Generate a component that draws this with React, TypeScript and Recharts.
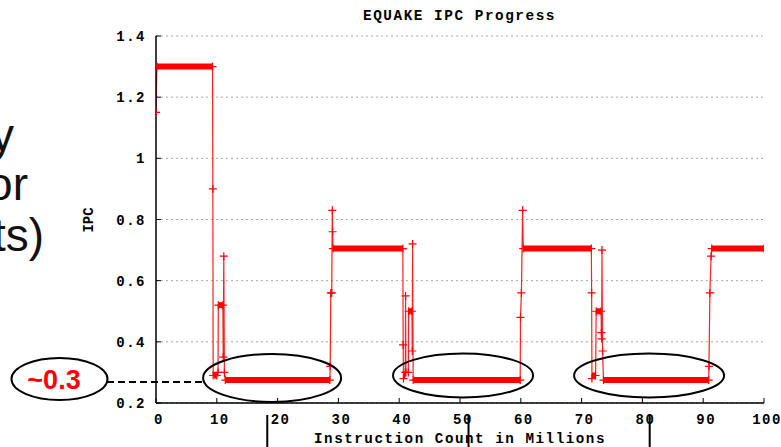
import React from 'react';
import { ComposedChart, Line, Scatter, XAxis, YAxis, CartesianGrid } from 'recharts';

// sampled IPC trace (x = instructions in millions)
const instrM = [
  0, 0.15, 9.3, 9.35, 9.4, 10.0, 10.2, 10.25, 11.0, 11.05, 11.15, 11.25, 11.4, 28.6, 28.65, 28.75, 28.9, 29.0, 29.05, 29.1, 40.6,
  40.65, 40.7, 41.0, 41.05, 41.1, 41.5, 41.55, 42.1, 42.15, 42.2, 42.3, 59.9, 59.95, 60.1, 60.3, 60.4, 71.6,
  71.65, 71.7, 72.3, 72.4, 73.2, 73.25, 73.3, 73.35, 73.45, 73.6, 90.9, 90.95, 91.1, 91.3, 91.4, 100,
];
const ipcValues = [
  1.15, 1.3, 1.3, 0.9, 0.29, 0.29, 0.3, 0.52, 0.52, 0.35, 0.68, 0.3, 0.275, 0.275, 0.32, 0.56, 0.56, 0.83, 0.76, 0.705, 0.705,
  0.39, 0.28, 0.3, 0.55, 0.3, 0.3, 0.5, 0.5, 0.37, 0.72, 0.275, 0.275, 0.48, 0.56, 0.83, 0.705, 0.705,
  0.56, 0.28, 0.29, 0.5, 0.5, 0.43, 0.41, 0.7, 0.37, 0.275, 0.275, 0.32, 0.56, 0.68, 0.705, 0.705,
];

// steady phases, where the noisy samples pile up into a thick band
const phaseFrom = [0.15, 9.5, 10.25, 11.4, 29.1, 40.7, 41.55, 42.3, 60.4, 71.7, 72.4, 73.6, 91.4];
const phaseTo = [9.3, 10.0, 11.0, 28.6, 40.6, 41.0, 42.1, 59.9, 71.6, 72.3, 73.2, 90.9, 100];
const phaseIPC = [1.3, 0.29, 0.52, 0.275, 0.705, 0.29, 0.5, 0.275, 0.705, 0.29, 0.5, 0.275, 0.705];

const xTicks = [0, 10, 20, 30, 40, 50, 60, 70, 80, 90, 100];
const yTicks = [0.2, 0.4, 0.6, 0.8, 1, 1.2, 1.4];

// the circled low phases on the slide
const circleX = [19.1, 50.5, 81.1];
const circleIPC = [0.282, 0.29, 0.29];
const circleRx = [69, 70, 75];
const circleRy = [24, 22, 22];

const trace = instrM.map((x, i) => ({ x, ipc: ipcValues[i] }));
const phases = phaseFrom.map((from, i) => [
  { x: from, ipc: phaseIPC[i] },
  { x: phaseTo[i], ipc: phaseIPC[i] },
]);

const W = 781;
const H = 447;
const PLOT_L = 156;
const PLOT_R = 764;
const PLOT_T = 36;
const PLOT_B = 403;
const px = (x: number) => PLOT_L + (x / 100) * (PLOT_R - PLOT_L);
const py = (v: number) => PLOT_B - ((v - 0.2) / 1.2) * (PLOT_B - PLOT_T);

const monoFont: React.CSSProperties = {
  fontFamily: '"Liberation Mono", "DejaVu Sans Mono", monospace',
  fontWeight: 'bold',
  fontSize: 14,
  letterSpacing: 1.5,
  fill: '#000',
};

const fmtY = (v: number) => (v === 1 ? '1' : v.toFixed(1));

const BottomTick = (p: any) => (
  <g>
    <line x1={p.x} x2={p.x} y1={p.y} y2={p.y - 5} stroke="#000" />
    <text x={p.x + 3} y={p.y + 21} textAnchor="middle" style={monoFont}>{p.payload.value}</text>
  </g>
);
const TopTick = (p: any) => <line x1={p.x} x2={p.x} y1={p.y} y2={p.y + 5} stroke="#000" />;
const LeftTick = (p: any) => (
  <g>
    <line x1={p.x} x2={p.x + 5} y1={p.y} y2={p.y} stroke="#000" />
    <text x={p.x - 10} y={p.y + 5} textAnchor="end" style={monoFont}>{fmtY(p.payload.value)}</text>
  </g>
);
const RightTick = (p: any) => <line x1={p.x} x2={p.x - 5} y1={p.y} y2={p.y} stroke="#444" />;

const PlusMark = (p: any) => (
  <path
    d={`M${p.cx - 4},${p.cy}H${p.cx + 4}M${p.cx},${p.cy - 4}V${p.cy + 4}`}
    stroke="#ff0000"
    strokeWidth={1.2}
    fill="none"
  />
);

export default function App() {
  return (
    <div style={{ position: 'absolute', left: 0, top: 0, width: W, height: H, background: '#fff' }}>
      <ComposedChart
        width={W}
        height={H}
        margin={{ top: PLOT_T, right: W - PLOT_R, bottom: H - PLOT_B - 30, left: PLOT_L - 60 }}
      >
        <CartesianGrid vertical={false} stroke="#a8a8a8" strokeDasharray="2 3" />
        <XAxis
          dataKey="x"
          type="number"
          domain={[0, 100]}
          ticks={xTicks}
          allowDataOverflow
          height={30}
          tickSize={0}
          tickMargin={0}
          tickLine={false}
          axisLine={{ stroke: '#000', strokeWidth: 1.5 }}
          tick={BottomTick}
        />
        <XAxis
          xAxisId="top"
          orientation="top"
          dataKey="x"
          type="number"
          domain={[0, 100]}
          ticks={xTicks}
          height={0}
          tickSize={0}
          tickMargin={0}
          tickLine={false}
          axisLine={{ stroke: '#888', strokeWidth: 1.5 }}
          tick={TopTick}
        />
        <YAxis
          type="number"
          domain={[0.2, 1.4]}
          ticks={yTicks}
          allowDataOverflow
          width={60}
          tickSize={0}
          tickMargin={0}
          tickLine={false}
          axisLine={{ stroke: '#000', strokeWidth: 1.5 }}
          tick={LeftTick}
        />
        <YAxis
          yAxisId="right"
          orientation="right"
          type="number"
          domain={[0.2, 1.4]}
          ticks={yTicks}
          width={0}
          tickSize={0}
          tickMargin={0}
          tickLine={false}
          axisLine={{ stroke: '#555', strokeWidth: 1.5 }}
          tick={RightTick}
        />
        <Line
          data={trace}
          dataKey="ipc"
          type="linear"
          stroke="#ff2020"
          strokeWidth={1.2}
          dot={false}
          isAnimationActive={false}
        />
        {phases.map((d, i) => (
          <Line
            key={i}
            data={d}
            dataKey="ipc"
            type="linear"
            stroke="#ff0000"
            strokeWidth={6}
            strokeLinecap="butt"
            dot={false}
            isAnimationActive={false}
          />
        ))}
        <Scatter data={trace} dataKey="ipc" shape={PlusMark} isAnimationActive={false} />
      </ComposedChart>

      <svg width={W} height={H} style={{ position: 'absolute', left: 0, top: 0, pointerEvents: 'none' }}>
        <text x={459.5} y={19.5} textAnchor="middle" textLength={193} lengthAdjust="spacingAndGlyphs" style={monoFont}>
          EQUAKE IPC Progress
        </text>
        <text x={460} y={443} textAnchor="middle" textLength={292} lengthAdjust="spacingAndGlyphs" style={monoFont}>
          Instruction Count in Millions
        </text>
        <text x={93} y={220} transform="rotate(-90 93 220)" textAnchor="middle" style={{ ...monoFont, letterSpacing: 0 }}>
          IPC
        </text>

        {/* cut-off slide text on the left */}
        <g style={{ fontFamily: '"Liberation Sans", Arial, sans-serif', fontSize: 46, fill: '#111' }}>
          <text x={14} y={151} textAnchor="end">y</text>
          <text x={28} y={200} textAnchor="end">or</text>
          <text x={44} y={251} textAnchor="end">ts)</text>
        </g>

        {circleX.map((cx, i) => (
          <ellipse key={i} cx={px(cx)} cy={py(circleIPC[i])} rx={circleRx[i]} ry={circleRy[i]} fill="none" stroke="#000" strokeWidth={2} />
        ))}

        <line x1={107} x2={px(7.8)} y1={py(0.269)} y2={py(0.269)} stroke="#000" strokeWidth={2} strokeDasharray="7 4" />
        <ellipse cx={59.5} cy={379} rx={48} ry={21} fill="#fff" stroke="#000" strokeWidth={2} />
        <text x={54} y={389} textAnchor="middle" style={{ fontFamily: '"Liberation Sans", Arial, sans-serif', fontWeight: 'bold', fontSize: 27, fill: '#ff0000' }}>
          ~0.3
        </text>

        {[px(18.3), px(51.4), px(81.2)].map((x, i) => (
          <line key={i} x1={x} x2={x} y1={415} y2={H} stroke="#000" strokeWidth={2} />
        ))}
      </svg>
    </div>
  );
}
